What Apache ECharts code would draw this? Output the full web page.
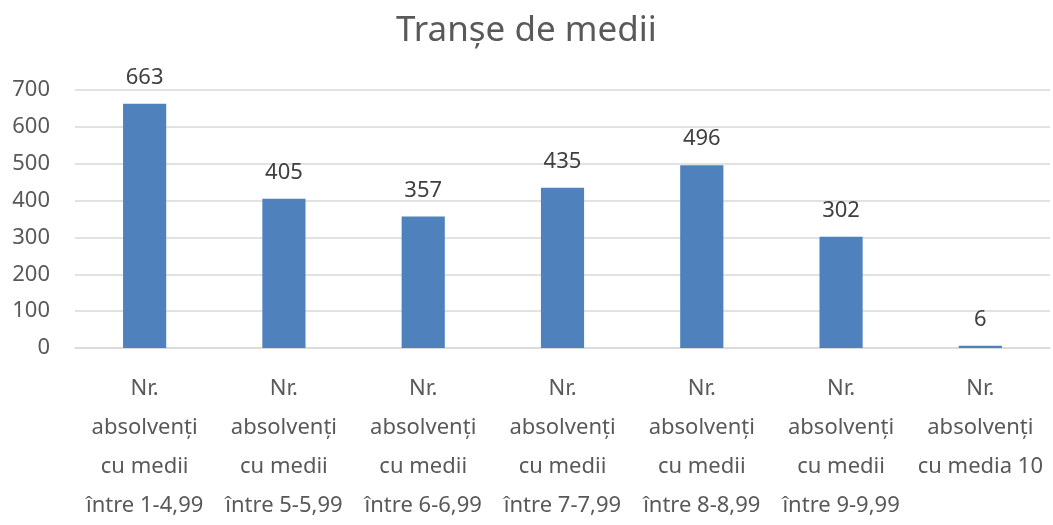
<!DOCTYPE html>
<html>
<head>
<meta charset="utf-8">
<script src="https://cdn.jsdelivr.net/npm/echarts@6/dist/echarts.min.js"></script>
<style>
  html, body { margin: 0; padding: 0; background: #fff; }
  #chart { width: 1053px; height: 525px; }
</style>
</head>
<body>
<div id="chart"></div>
<script>
// categorii si valori
var categories = [
  'Nr.\nabsolvenți\ncu medii\nîntre 1-4,99',
  'Nr.\nabsolvenți\ncu medii\nîntre 5-5,99',
  'Nr.\nabsolvenți\ncu medii\nîntre 6-6,99',
  'Nr.\nabsolvenți\ncu medii\nîntre 7-7,99',
  'Nr.\nabsolvenți\ncu medii\nîntre 8-8,99',
  'Nr.\nabsolvenți\ncu medii\nîntre 9-9,99',
  'Nr.\nabsolvenți\ncu media 10'
]
var values = [663, 405, 357, 435, 496, 302, 6]
var yTicks = [0, 100, 200, 300, 400, 500, 600, 700]

var font = '"Noto Sans", sans-serif'
var chart = echarts.init(document.getElementById('chart'))
chart.setOption({
  animation: false,
  title: {
    text: 'Tranșe de medii',
    left: 'center',
    top: 9,
    textStyle: { fontFamily: font, fontSize: 35, fontWeight: 'normal', color: '#595959' }
  },
  grid: { left: 75, right: 3, top: 90, bottom: 177 },
  xAxis: {
    type: 'category',
    data: categories,
    axisTick: { show: false },
    axisLine: { lineStyle: { color: '#d9d9d9', width: 1.5 } },
    axisLabel: {
      interval: 0,
      margin: 21,
      fontFamily: font,
      fontSize: 22,
      lineHeight: 39,
      color: '#595959'
    }
  },
  yAxis: {
    type: 'value',
    min: yTicks[0],
    max: yTicks[yTicks.length - 1],
    interval: 100,
    axisLine: { show: false },
    axisTick: { show: false },
    splitLine: { lineStyle: { color: '#d9d9d9', width: 1.5 } },
    axisLabel: { margin: 25, fontFamily: font, fontSize: 22, color: '#595959' }
  },
  series: [
    {
      type: 'bar',
      data: values,
      barWidth: '31%',
      itemStyle: { color: '#4f81bd' },
      label: {
        show: true,
        position: 'top',
        distance: 15,
        fontFamily: font,
        fontSize: 22,
        color: '#404040'
      }
    }
  ]
})
</script>
</body>
</html>
